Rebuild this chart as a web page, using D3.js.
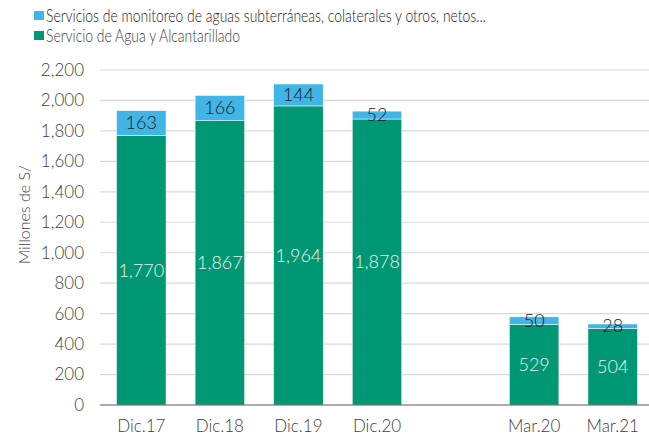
<!DOCTYPE html>
<html>
<head>
<meta charset="utf-8">
<script src="https://cdn.jsdelivr.net/npm/d3@7"></script>
<style>
  body { margin: 0; background: #fff; }
  svg { display: block; font-family: Lato, "Open Sans", sans-serif; font-weight: 300; }
</style>
</head>
<body>
<svg id="chart" width="649" height="436"></svg>
<script>
const categories = ['Dic.17', 'Dic.18', 'Dic.19', 'Dic.20', '', 'Mar.20', 'Mar.21'];
const agua = [1770, 1867, 1964, 1878, null, 529, 504];
const otros = [163, 166, 144, 52, null, 50, 28];
const yTicks = [0, 200, 400, 600, 800, 1000, 1200, 1400, 1600, 1800, 2000, 2200];
const legendLabels = [
    'Servicios de monitoreo de aguas subterráneas, colaterales y otros, netos...',
    'Servicio de Agua y Alcantarillado'
];
const legendWidths = [440, 194]; // condensed face in the original

const colBlue = '#41b6e6', colGreen = '#009874';
const svg = d3.select('#chart');

const x = d3.scaleBand()
    .domain(categories)
    .range([102, 652])
    .paddingInner(0.37)
    .paddingOuter(0.185);

const y = d3.scaleLinear()
    .domain([0, 2200])
    .range([405, 70]);

// gridlines
svg.append('g')
    .selectAll('line')
    .data(yTicks.slice(1))
    .join('line')
        .attr('x1', 100).attr('x2', 649)
        .attr('y1', d => y(d)).attr('y2', d => y(d))
        .attr('stroke', '#d9d9d9')
        .attr('stroke-width', 1.2);

// y tick labels
svg.append('g')
    .selectAll('text')
    .data(yTicks)
    .join('text')
        .attr('x', 84)
        .attr('y', d => y(d))
        .attr('dy', '0.35em')
        .attr('text-anchor', 'end')
        .attr('font-size', 17)
        .attr('fill', '#404040')
        .text(d => d3.format(',')(d));

svg.append('text')
    .attr('transform', `translate(30,${y(1250)}) rotate(-90)`)
    .attr('text-anchor', 'middle')
    .attr('font-size', 16)
    .attr('fill', '#404040')
    .text('Millones de S/');

const data = categories.map((c, i) => ({ c, a: agua[i], o: otros[i] })).filter(d => d.a != null);

const bars = svg.append('g');
bars.selectAll('rect.agua')
    .data(data)
    .join('rect')
        .attr('class', 'agua')
        .attr('x', d => x(d.c))
        .attr('width', x.bandwidth())
        .attr('y', d => y(d.a))
        .attr('height', d => y(0) - y(d.a))
        .attr('fill', colGreen)
        .attr('stroke', '#fff').attr('stroke-width', 0.5);

bars.selectAll('rect.otros')
    .data(data)
    .join('rect')
        .attr('class', 'otros')
        .attr('x', d => x(d.c))
        .attr('width', x.bandwidth())
        .attr('y', d => y(d.a + d.o))
        .attr('height', d => y(d.a) - y(d.a + d.o))
        .attr('fill', colBlue)
        .attr('stroke', '#fff').attr('stroke-width', 0.5);

// value labels
bars.selectAll('text.agua')
    .data(data)
    .join('text')
        .attr('class', 'agua')
        .attr('x', d => x(d.c) + x.bandwidth() / 2)
        .attr('y', d => y(d.a / 2))
        .attr('dy', '0.35em')
        .attr('text-anchor', 'middle')
        .attr('font-size', 18)
        .attr('fill', '#eeeeee')
        .text(d => d3.format(',')(d.a));

bars.selectAll('text.otros')
    .data(data)
    .join('text')
        .attr('class', 'otros')
        .attr('x', d => x(d.c) + x.bandwidth() / 2)
        .attr('y', d => y(d.a + d.o / 2))
        .attr('dy', '0.35em')
        .attr('text-anchor', 'middle')
        .attr('font-size', 18)
        .attr('fill', '#1a1a1a')
        .text(d => d3.format(',')(d.o));

// baseline axis
svg.append('line')
    .attr('x1', 100).attr('x2', 649)
    .attr('y1', y(0)).attr('y2', y(0))
    .attr('stroke', '#595959')
    .attr('stroke-width', 1.2);

// x labels
svg.append('g')
    .selectAll('text')
    .data(data)
    .join('text')
        .attr('x', d => x(d.c) + x.bandwidth() / 2)
        .attr('y', 426)
        .attr('dy', '0.35em')
        .attr('text-anchor', 'middle')
        .attr('font-size', 17)
        .attr('fill', '#404040')
        .text(d => d.c);

// legend
const legend = svg.append('g')
    .selectAll('g')
    .data(legendLabels)
    .join('g')
        .attr('transform', (d, i) => `translate(34,${11 + i * 20})`);

legend.append('rect')
    .attr('width', 10).attr('height', 9)
    .attr('fill', (d, i) => i === 0 ? colBlue : colGreen);

legend.append('text')
    .attr('x', 12)
    .attr('y', 5)
    .attr('dy', '0.35em')
    .attr('font-size', 18)
    .attr('textLength', (d, i) => legendWidths[i])
    .attr('lengthAdjust', 'spacingAndGlyphs')
    .attr('fill', (d, i) => i === 0 ? '#1a1a1a' : '#404040')
    .text(d => d);
</script>
</body>
</html>
